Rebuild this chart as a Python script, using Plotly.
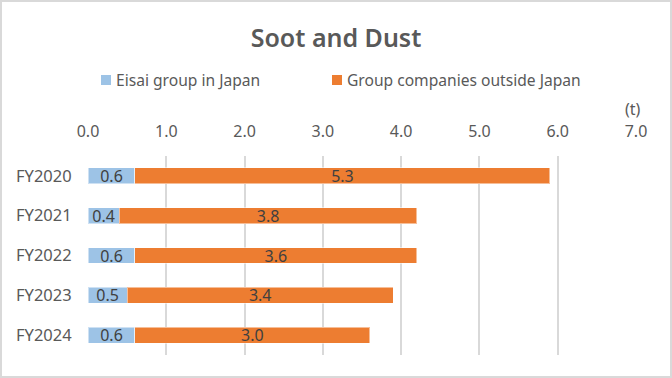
import plotly.graph_objects as go

categories = ["FY2020", "FY2021", "FY2022", "FY2023", "FY2024"]
eisai_japan = [0.6, 0.4, 0.6, 0.5, 0.6]
outside_japan = [5.3, 3.8, 3.6, 3.4, 3.0]
x_ticks = [0, 1, 2, 3, 4, 5, 6, 7]
series_names = ["Eisai group in Japan", "Group companies outside Japan"]
series_colors = ["#9DC3E6", "#ED7D31"]

FONT = "Noto Sans"
GRAY = "#595959"
LABEL = "#404040"

W, H = 672, 378
ML, MR, MT, MB = 88, 36, 156, 23
pw = W - ML - MR
ph = H - MT - MB


def px_x(p):
    return (p - ML) / pw


def px_y(p):
    return (H - MB - p) / ph


fig = go.Figure()
for vals, name, color in zip([eisai_japan, outside_japan], series_names, series_colors):
    fig.add_trace(go.Bar(
        y=categories, x=vals, orientation="h", name=name,
        marker=dict(color=color, line=dict(color="rgba(255,255,255,0.5)", width=1)),
        text=[f"{v:.1f}" for v in vals], textposition="inside",
        insidetextanchor="middle", constraintext="none",
        textfont=dict(family=FONT, size=16, color=LABEL), width=0.4,
        showlegend=False,
    ))

fig.update_layout(
    width=W, height=H, barmode="stack",
    margin=dict(l=ML, r=MR, t=MT, b=MB),
    paper_bgcolor="white", plot_bgcolor="white",
    font=dict(family=FONT, color=GRAY),
    title=dict(text="Soot and Dust", x=0.5, xref="container", xanchor="center",
               y=1 - 38 / H, yref="container", yanchor="middle",
               font=dict(family=FONT, size=25, color=GRAY, weight=600)),
    xaxis=dict(side="top", range=[0, 7], tickvals=x_ticks,
               ticktext=[f"{v:.1f}" for v in x_ticks],
               showgrid=True, gridcolor="#D9D9D9", gridwidth=1.5,
               zeroline=False, showline=False,
               ticks="outside", ticklen=12, tickcolor="rgba(0,0,0,0)",
               tickfont=dict(family=FONT, size=16, color=GRAY)),
    yaxis=dict(autorange="reversed", showgrid=False, zeroline=False, showline=False,
               ticks="outside", ticklen=12, tickcolor="rgba(0,0,0,0)",
               tickfont=dict(family=FONT, size=16.5, color=GRAY)),
    showlegend=False,
)

# custom legend (squares + labels)
legend_square_left = [101, 332]
legend_y = 80
for left, name, color in zip(legend_square_left, series_names, series_colors):
    fig.add_shape(type="rect", xref="paper", yref="paper",
                  x0=px_x(left), x1=px_x(left + 10),
                  y0=px_y(legend_y + 5), y1=px_y(legend_y - 5),
                  line=dict(width=0), fillcolor=color)
    fig.add_annotation(text=name, xref="paper", yref="paper",
                       x=px_x(left + 13), y=px_y(legend_y),
                       xanchor="left", yanchor="middle", showarrow=False,
                       font=dict(family=FONT, size=15.6, color=GRAY))

fig.add_annotation(text="(t)", x=7, xref="x", y=px_y(109), yref="paper",
                   showarrow=False, font=dict(family=FONT, size=16, color=GRAY),
                   xanchor="center", yanchor="middle", xshift=-3, borderpad=0)

fig.add_shape(type="rect", xref="paper", yref="paper",
              x0=-(ML - 1) / pw, x1=1 + (MR - 1) / pw,
              y0=-(MB - 1) / ph, y1=1 + (MT - 1) / ph,
              line=dict(color="#D9D9D9", width=2), fillcolor="rgba(0,0,0,0)", layer="below")

fig.write_html("out.html", config={"displayModeBar": False},
               post_script="document.body.style.margin='0px';")
